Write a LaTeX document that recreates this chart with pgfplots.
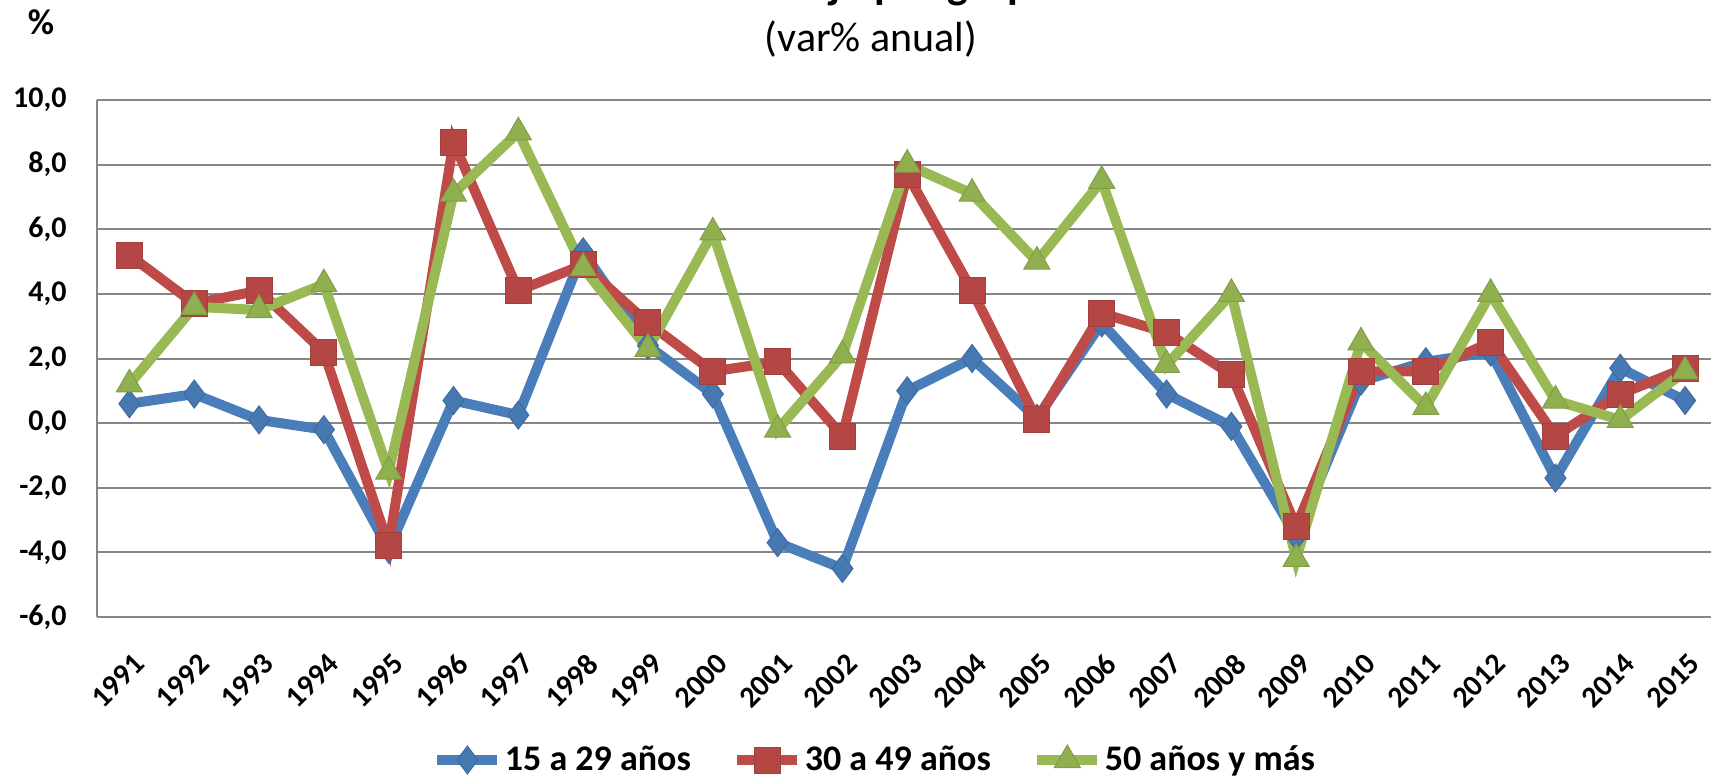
\documentclass[border=0pt]{standalone}
\usepackage{pgfplots}
\pgfplotsset{compat=1.18}
\usepackage{fontspec}
\setmainfont{Carlito}
\definecolor{cblue}{HTML}{4A7EBB}
\definecolor{cred}{HTML}{BE4B48}
\definecolor{cgreen}{HTML}{98B954}
\definecolor{cgrid}{HTML}{868686}
\begin{document}
\begin{tikzpicture}
\path[use as bounding box] (0,0) rectangle (855.5pt,388.5pt);
\clip (0,0) rectangle (855.5pt,388.5pt);
\begin{axis}[
  at={(48.5pt,80pt)}, anchor=south west,
  scale only axis,
  width=807pt, height=258.5pt,
  xmin=1990.5, xmax=2015.4,
  ymin=-6, ymax=10,
  ytick={-6,-4,...,10},
  xtick={1991,...,2015},
  axis x line=bottom, axis y line=left,
  axis line style={draw=cgrid, line width=1pt, -},
  ymajorgrids, grid style={draw=cgrid, line width=1pt},
  major tick length=0pt,
  tick label style={font=\fontsize{15}{18}\selectfont\bfseries},
  yticklabel style={/pgf/number format/.cd, fixed, fixed zerofill, precision=1, use comma, assume math mode=true, /tikz/.cd, anchor=east, inner sep=0pt, xshift=-15pt},
  xticklabel style={/pgf/number format/.cd, 1000 sep={}, assume math mode=true, /tikz/.cd, xshift=5pt, yshift=-21pt, rotate=45, anchor=east, inner sep=0pt},
  clip=false,
  legend columns=3,
  legend style={at={(0.482,-0.2766)}, anchor=center, draw=none, fill=none,
    font=\fontsize{18}{21}\selectfont\bfseries,
    /tikz/every even column/.append style={column sep=19.5pt},
    nodes={inner sep=1.25pt}},
  legend image code/.code={\draw[#1,mark=none] (0pt,0pt) -- (30pt,0pt); \draw[#1] plot coordinates {(15pt,0pt)};},
]
\addplot[color=cblue, line width=5pt, mark=diamond*, mark size=7pt, mark options={line width=0.5pt, fill=cblue!95!black, draw=cblue!85!black}] coordinates {
(1991,0.6) (1992,0.9) (1993,0.1) (1994,-0.2) (1995,-3.9) (1996,0.7) (1997,0.25) (1998,5.3) (1999,2.4) (2000,0.9) (2001,-3.7) (2002,-4.5) (2003,1.0) (2004,2.0) (2005,0.15) (2006,3.1) (2007,0.9) (2008,-0.1) (2009,-3.5) (2010,1.3) (2011,1.9) (2012,2.2) (2013,-1.7) (2014,1.7) (2015,0.7)};
\addlegendentry{15 a 29 años}
\addplot[color=cred, line width=5pt, mark=square*, mark size=6.5pt, mark options={line width=0.5pt, fill=cred!95!black, draw=cred!85!black}] coordinates {
(1991,5.2) (1992,3.7) (1993,4.1) (1994,2.2) (1995,-3.8) (1996,8.7) (1997,4.1) (1998,4.9) (1999,3.1) (2000,1.6) (2001,1.9) (2002,-0.4) (2003,7.7) (2004,4.1) (2005,0.1) (2006,3.4) (2007,2.8) (2008,1.5) (2009,-3.2) (2010,1.6) (2011,1.6) (2012,2.5) (2013,-0.4) (2014,0.9) (2015,1.7)};
\addlegendentry{30 a 49 años}
\addplot[color=cgreen, line width=5pt, mark=triangle*, mark size=7.5pt, mark options={line width=0.5pt, fill=cgreen!95!black, draw=cgreen!85!black}] coordinates {
(1991,1.2) (1992,3.6) (1993,3.5) (1994,4.3) (1995,-1.5) (1996,7.1) (1997,9.0) (1998,4.8) (1999,2.3) (2000,5.9) (2001,-0.2) (2002,2.1) (2003,8.0) (2004,7.1) (2005,5.0) (2006,7.5) (2007,1.8) (2008,4.0) (2009,-4.2) (2010,2.5) (2011,0.5) (2012,4.0) (2013,0.7) (2014,0.1) (2015,1.6)};
\addlegendentry{50 años y más}
\end{axis}
\node[anchor=base, font=\fontsize{22}{26}\selectfont\bfseries, inner sep=0pt] at (438.5pt,389.25pt) {Puestos de trabajo por grupos de edad};
\node[anchor=base, font=\fontsize{21}{25}\selectfont, inner sep=0pt] at (435.5pt,362.5pt) {(var\% anual)};
\node[anchor=base, font=\fontsize{18}{21}\selectfont\bfseries, inner sep=0pt] at (20.5pt,371pt) {\%};
\end{tikzpicture}
\end{document}
